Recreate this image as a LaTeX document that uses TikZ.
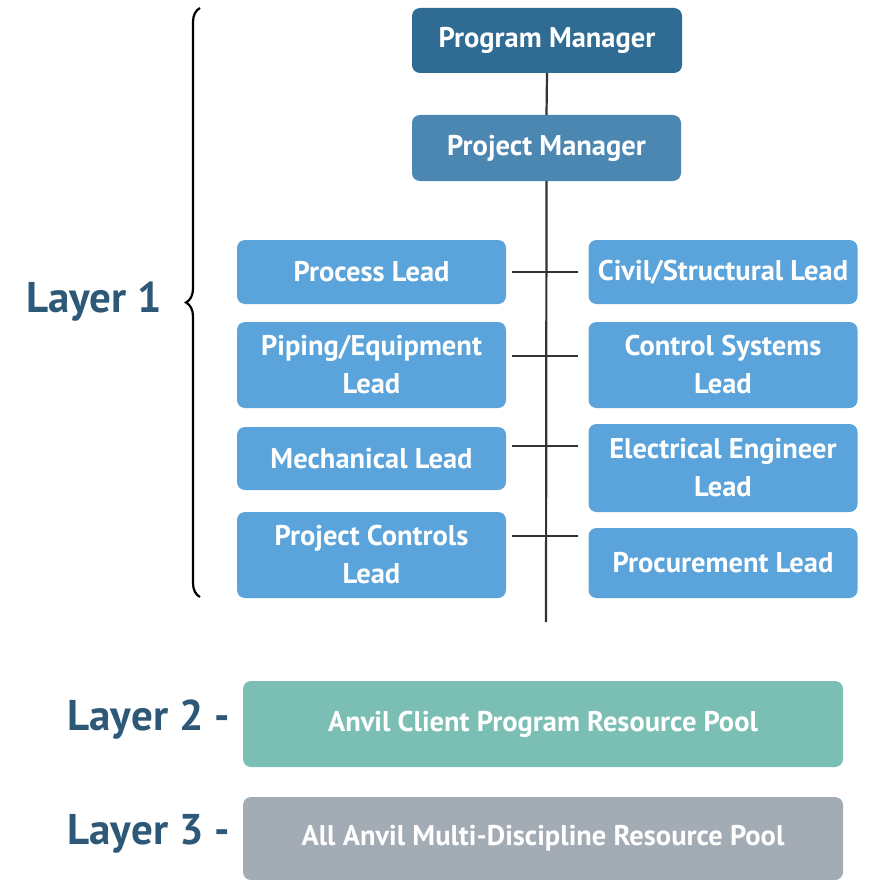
\documentclass[tikz,border=0pt]{standalone}
\usepackage{fontspec}
\setmainfont{PT Sans}
\usetikzlibrary{decorations.pathreplacing,calc}
\definecolor{pmblue}{HTML}{2F6B93}
\definecolor{prjblue}{HTML}{4C87B2}
\definecolor{leadblue}{HTML}{5AA3DB}
\definecolor{poolteal}{HTML}{7BBFB4}
\definecolor{poolgray}{HTML}{A3ABB5}
\definecolor{labelblue}{HTML}{2D5878}
\definecolor{linegray}{HTML}{333333}
\tikzset{
  box/.style={rounded corners=8pt, text=white, align=center,
    font=\bfseries\fontsize{28.5}{38}\selectfont, inner sep=0pt},
  lead/.style={box, fill=leadblue, minimum width=269pt},
  layerlabel/.style={text=labelblue, font=\bfseries\fontsize{43}{46}\selectfont, inner sep=0pt},
  conn/.style={draw=linegray, line width=2.2pt},
}
\begin{document}
\begin{tikzpicture}[x=1pt,y=-1pt]
\useasboundingbox (0,0) rectangle (874,880);
% managers
\node[box, fill=pmblue, minimum width=270pt, minimum height=65pt] (pm) at (547,40.5) {Program Manager};
\node[box, fill=prjblue, minimum width=269pt, minimum height=66pt] (prj) at (546.5,148) {Project Manager};
% left leads
\node[lead, minimum height=64pt] (l1) at (371.5,272) {Process Lead};
\node[lead, minimum height=86pt] (l2) at (371.5,365) {Piping/Equipment\\Lead};
\node[lead, minimum height=63pt] (l3) at (371.5,458.5) {Mechanical Lead};
\node[lead, minimum height=86pt] (l4) at (371.5,555) {Project Controls\\Lead};
% right leads
\node[lead, minimum height=64pt] (r1) at (723,272) {Civil/Structural Lead};
\node[lead, minimum height=86pt] (r2) at (723,365) {Control Systems\\Lead};
\node[lead, minimum height=88pt] (r3) at (723,468) {Electrical Engineer\\Lead};
\node[lead, minimum height=70pt] (r4) at (723,563) {Procurement Lead};
% pools
\node[box, fill=poolteal, minimum width=600pt, minimum height=86pt] (p2) at (543,724) {Anvil Client Program Resource Pool};
\node[box, fill=poolgray, minimum width=600pt, minimum height=83pt] (p3) at (543,838.5) {All Anvil Multi-Discipline Resource Pool};
% layer labels
\node[layerlabel] (lay1) at (94,302) {Layer 1};
\node[layerlabel, anchor=east] (lay2) at (230,720) {Layer 2 -};
\node[layerlabel, anchor=east] (lay3) at (230,834) {Layer 3 -};
% trunk
\coordinate (trunkend) at (546,622);
\draw[conn] (pm.south) -- (prj.north);
\draw[conn] (prj.south) -- (trunkend);
% ticks
\foreach \y [count=\i] in {272,356,446,536}{
  \coordinate (ta\i) at (512,\y);
  \coordinate (tb\i) at (578,\y);
  \draw[conn] (ta\i) -- (tb\i);
}
% brace
\coordinate (bt) at (200,8);
\coordinate (bb) at (200,597);
\draw[line width=2.2pt, decorate, decoration={brace, amplitude=14pt}] (bb) -- (bt);
\end{tikzpicture}
\end{document}
